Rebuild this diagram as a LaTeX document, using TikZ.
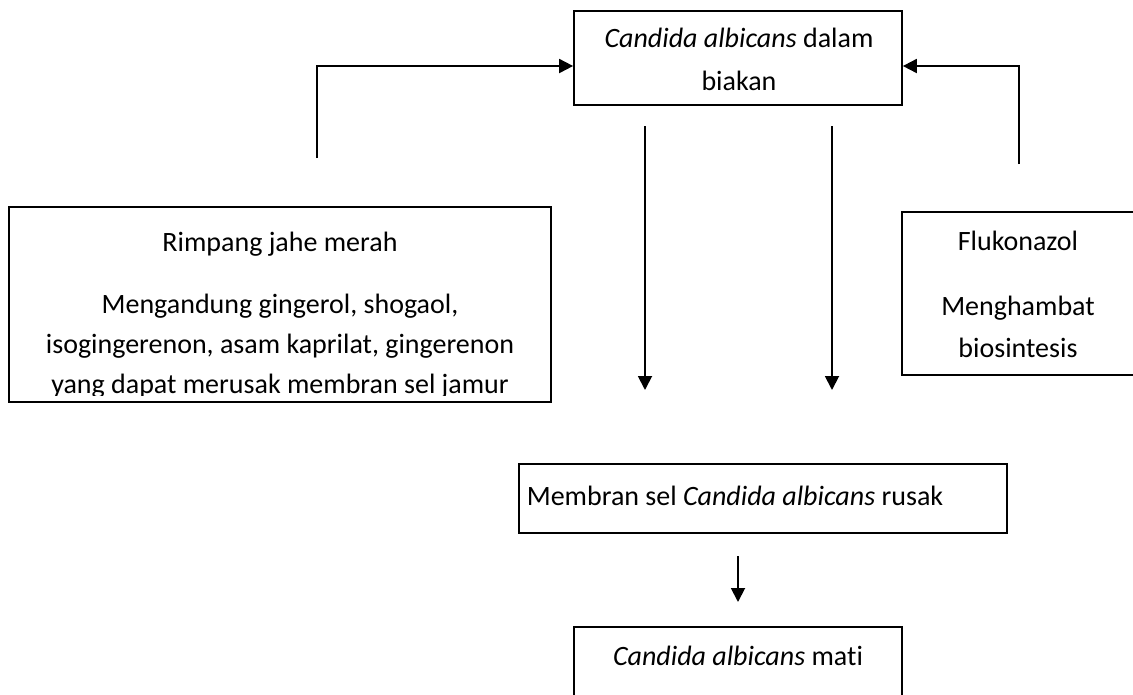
\documentclass[tikz,border=0pt]{standalone}
\usepackage{fontspec}
\setmainfont[Ligatures=NoCommon]{Carlito}
\usetikzlibrary{arrows.meta}
\begin{document}
\begin{tikzpicture}[x=0.75pt,y=-0.75pt,
  box/.style={draw, line width=1.3pt, inner sep=0pt, rectangle},
  txt/.style={anchor=base, inner sep=0pt, font=\fontsize{21pt}{27pt}\selectfont},
  arr/.style={line width=1.4pt, -{Triangle[length=10.5pt,width=10.5pt]}}]
\useasboundingbox (0,0) rectangle (1133,694);

% top box
\node[box, minimum width=246pt, minimum height=70.5pt] (top) at (738,58) {};
\node[txt] (t1) at (739,47) {\textit{Candida albicans} dalam};
\node[txt] (t2) at (739,90) {biakan};

% Rimpang box (text clipped at the bottom)
\begin{scope}
  \clip (9,207) rectangle (551,395);
  \node[txt] (r1) at (280,251) {Rimpang jahe merah};
  \node[txt] (r2) at (280,313) {Mengandung gingerol, shogaol,};
  \node[txt] (r3) at (280,353) {isogingerenon, asam kaprilat, gingerenon};
  \node[txt] (r4) at (280,393) {yang dapat merusak membran sel jamur};
\end{scope}
\node[box, minimum width=406.5pt, minimum height=146.25pt] (rim) at (280,304.5) {};

% Flukonazol box
\node[box, minimum width=175.5pt, minimum height=122.25pt] (fluk) at (1019,293.5) {};
\node[txt] (f1) at (1018,250) {Flukonazol};
\node[txt] (f2) at (1018,315) {Menghambat};
\node[txt] (f3) at (1018,357) {biosintesis};

% Membran box
\node[box, minimum width=366pt, minimum height=51.75pt] (mem) at (763,498.5) {};
\node[txt] (m1) at (735,505) {Membran sel \textit{Candida albicans} rusak};

% Mati box
\node[box, minimum width=246pt, minimum height=69.75pt] (mati) at (738,673.5) {};
\node[txt] (k1) at (738,665) {\textit{Candida albicans} mati};

% connectors
\coordinate (ls) at (317,158);
\coordinate (rs) at (1019,164);
\draw[arr] (ls) |- ([yshift=-6pt]top.west);
\draw[arr] (rs) |- ([yshift=-6pt]top.east);

\coordinate (d1s) at (645,126);
\coordinate (d1e) at (645,390);
\coordinate (d2s) at (832,126);
\coordinate (d2e) at (832,390);
\draw[arr] (d1s) -- (d1e);
\draw[arr] (d2s) -- (d2e);

\coordinate (ms) at (738,556);
\coordinate (me) at (738,602);
\draw[arr] (ms) -- (me);
\end{tikzpicture}
\end{document}
